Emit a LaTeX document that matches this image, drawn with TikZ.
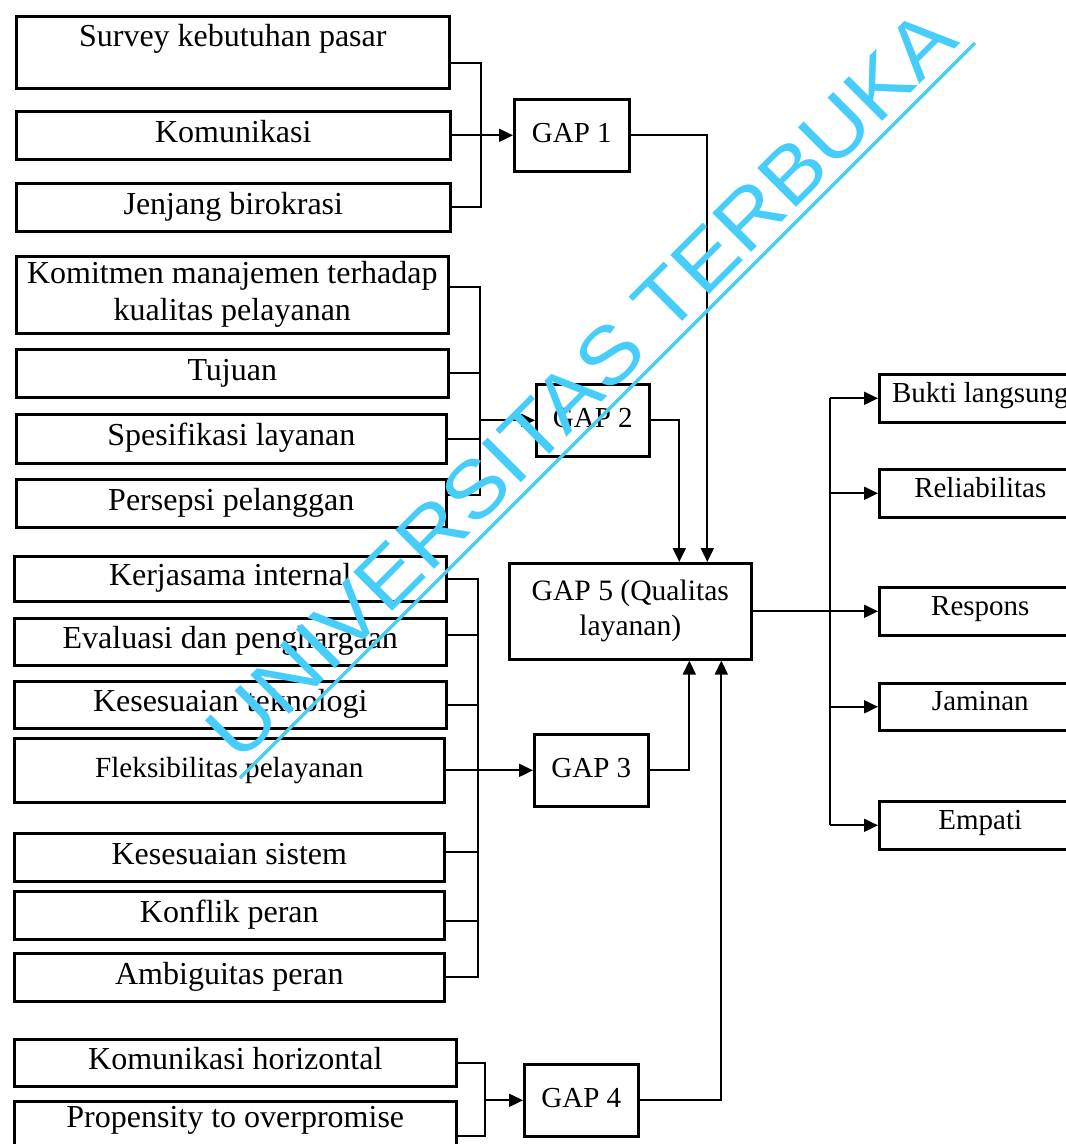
\documentclass[tikz,border=0pt]{standalone}
\usepackage{fontspec}
\setmainfont{Liberation Serif}
\newfontfamily\wmfont{Liberation Sans}
\usetikzlibrary{arrows.meta}
\definecolor{wmblue}{RGB}{70,205,250}

\begin{document}
\begin{tikzpicture}[x=0.5pt, y=-0.5pt,
        box/.style={draw, line width=1.3pt, anchor=north west, inner xsep=2pt, inner ysep=0pt,
            font=\fontsize{16}{18.5}\selectfont, align=center},
        one/.style={box, text height=11pt, text depth=4pt},
        gap/.style={one, font=\fontsize{14.5}{17.5}\selectfont},
        gaptwo/.style={box, font=\fontsize{14.8}{17.5}\selectfont},
        side/.style={one, font=\fontsize{14.5}{17}\selectfont, text height=10pt, text depth=6pt},
        conn/.style={line width=1pt},
        arr/.style={conn, -{Triangle[length=7pt, width=6.5pt]}}]
                \useasboundingbox (0,0) rectangle (1065,1144);
                \node[one, minimum width=216.5pt, minimum height=36pt, text height=15pt, text depth=21pt] (survey) at (15,15) {Survey kebutuhan pasar};
                \node[one, minimum width=217pt, minimum height=24pt] (komunikasi) at (15,110) {Komunikasi};
                \node[one, minimum width=217pt, minimum height=24pt] (jenjang) at (15,182) {Jenjang birokrasi};
                \node[box, minimum width=216pt, minimum height=38.5pt] (komitmen) at (15,255) {Komitmen manajemen terhadap\\kualitas pelayanan};
                \node[one, minimum width=216pt, minimum height=24pt] (tujuan) at (15,348) {Tujuan};
                \node[one, minimum width=215pt, minimum height=24.5pt] (spesifikasi) at (15,413) {Spesifikasi layanan};
                \node[one, minimum width=215pt, minimum height=24pt] (persepsi) at (15,478) {Persepsi pelanggan};
                \node[one, minimum width=216pt, minimum height=22.5pt] (kerjasama) at (13,555) {Kerjasama internal};
                \node[one, minimum width=216pt, minimum height=23.5pt] (evaluasi) at (13,617) {Evaluasi dan penghargaan};
                \node[one, minimum width=216pt, minimum height=23.5pt] (teknologi) at (13,680) {Kesesuaian teknologi};
                \node[one, minimum width=215pt, minimum height=32pt, font=\fontsize{14.6}{17}\selectfont] (fleksibilitas) at (13,737) {Fleksibilitas pelayanan};
                \node[one, minimum width=215pt, minimum height=24pt] (sistem) at (13,832) {Kesesuaian sistem};
                \node[one, minimum width=215pt, minimum height=24pt] (konflik) at (13,890) {Konflik peran};
                \node[one, minimum width=215pt, minimum height=24pt] (ambiguitas) at (13,952) {Ambiguitas peran};
                \node[one, minimum width=221pt, minimum height=23.5pt] (horizontal) at (13,1038) {Komunikasi horizontal};
                \node[one, minimum width=221pt, minimum height=30pt, text height=13pt, text depth=17pt] (propensity) at (13,1100) {Propensity to overpromise};
                \node[gap, minimum width=57.5pt, minimum height=36pt] (gap1) at (513,98) {GAP 1};
                \node[gap, minimum width=56.5pt, minimum height=36pt] (gap2) at (535,383) {GAP 2};
                \node[gap, minimum width=57pt, minimum height=36pt] (gap3) at (533,733) {GAP 3};
                \node[gap, minimum width=57pt, minimum height=36pt] (gap4) at (523,1063) {GAP 4};
                \node[gaptwo, minimum width=121pt, minimum height=48pt] (gap5) at (508,562) {GAP 5 (Qualitas\\layanan)};
                \node[side, minimum width=101pt, minimum height=24pt] (bukti) at (878,373) {Bukti langsung};
                \node[side, minimum width=101pt, minimum height=24pt] (reliabilitas) at (878,468) {Reliabilitas};
                \node[side, minimum width=101pt, minimum height=24pt] (respons) at (878,586) {Respons};
                \node[side, minimum width=101pt, minimum height=23.5pt] (jaminan) at (878,682) {Jaminan};
                \node[side, minimum width=101pt, minimum height=24pt] (empati) at (878,800) {Empati};
                \coordinate (bus1) at (481,0);
                \coordinate (bus2) at (480,0);
                \coordinate (bus3) at (478,0);
                \coordinate (bus4) at (485,0);
                \coordinate (bus5) at (830,0);
                \draw[conn] ([yshift=-5.5pt]survey.east) -- ([yshift=-5.5pt]survey.east -| bus1) |- (jenjang.east);
                \draw[arr] (komunikasi.east) -- (gap1.west);
                \draw[arr] (gap1.east) -| ([xshift=38.5pt]gap5.north);
                \draw[conn] ([yshift=4pt]komitmen.east) -- ([yshift=4pt]komitmen.east -| bus2) |- ([yshift=4pt]persepsi.east);
                \draw[conn] (tujuan.east) -- (tujuan.east -| bus2);
                \draw[conn] (spesifikasi.east) -- (spesifikasi.east -| bus2);
                \draw[arr] (bus2 |- gap2.west) -- (gap2.west);
                \draw[arr] (gap2.east) -| ([xshift=24.5pt]gap5.north);
                \draw[conn] (kerjasama.east) -- (kerjasama.east -| bus3) |- (ambiguitas.east);
                \foreach \n/\s in {evaluasi/3.5pt, teknologi/0pt, sistem/2.5pt, konflik/-3pt}
                    \draw[conn] ([yshift=\s]\n.east) -- ([yshift=\s]\n.east -| bus3);
                \draw[arr] (fleksibilitas.east) -- (gap3.west);
                \draw[arr] (gap3.east) -| ([xshift=29.5pt]gap5.south);
                \draw[conn] (horizontal.east) -- (horizontal.east -| bus4) |- ([yshift=-2.5pt]propensity.east);
                \draw[arr] (bus4 |- gap4.west) -- (gap4.west);
                \draw[arr] (gap4.east) -| ([xshift=45.5pt]gap5.south);
                \draw[arr] (gap5.east) -- (respons.west);
                \draw[conn] (bus5 |- bukti.west) -- (bus5 |- empati.west);
                \foreach \n in {bukti, reliabilitas, jaminan, empati}
                    \draw[arr] (bus5 |- \n.west) -- (\n.west);
                \node[text=wmblue, font=\wmfont\fontsize{40}{40}\selectfont, rotate=45, xscale=1.1, anchor=base] (wm) at (600,404) {UNIVERSITAS TERBUKA};
                \draw[wmblue, line width=1.6pt] (240,778) -- (975,43);
\end{tikzpicture}
\end{document}
